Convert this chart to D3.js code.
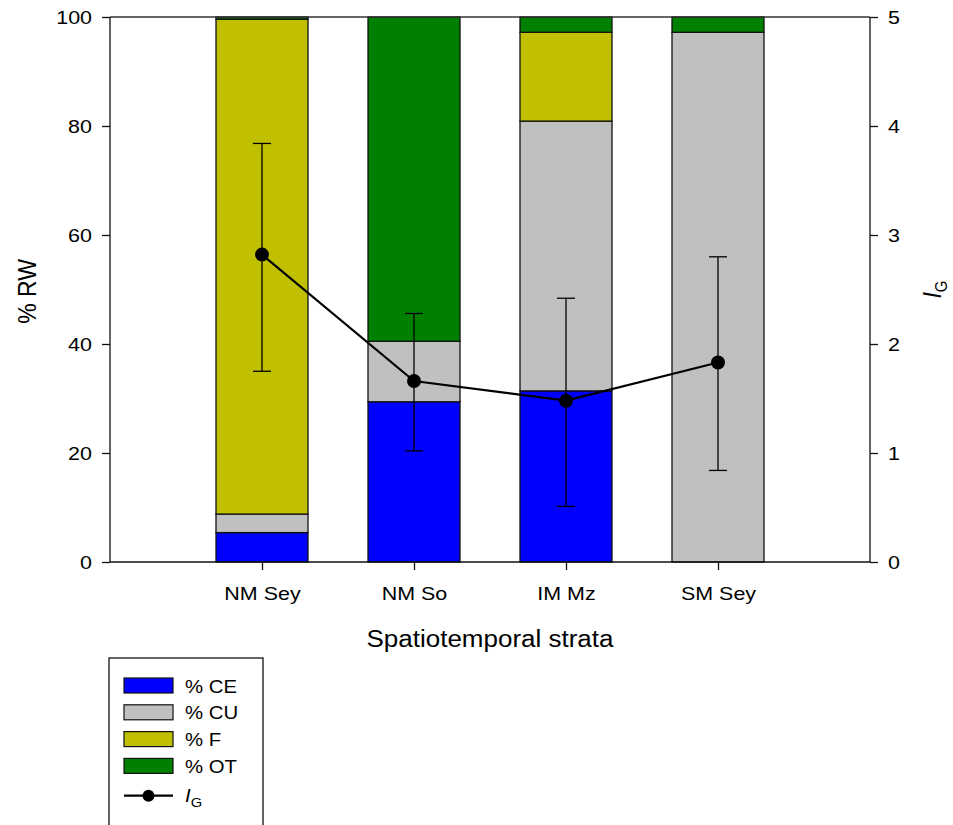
<!DOCTYPE html>
<html>
<head>
<meta charset="utf-8">
<script src="https://cdn.jsdelivr.net/npm/d3@7"></script>
<style>
  body { margin: 0; background: #fff; }
  svg text { font-family: "Liberation Sans", Arial, sans-serif; fill: #000; }
</style>
</head>
<body>
<svg id="chart" width="953" height="825"></svg>
<script>
// ---- data ----
const strata = ["NM Sey", "NM So", "IM Mz", "SM Sey"];
const keys = ["CE", "CU", "F", "OT"];
const pctCE = [5.4, 29.4, 31.4, 0];
const pctCU = [3.4, 11.1, 49.5, 97.2];
const pctF  = [90.8, 0, 16.3, 0];
const pctOT = [0.4, 59.5, 2.8, 2.8];
const ig     = [2.82, 1.66, 1.48, 1.83];
const igHigh = [3.84, 2.28, 2.42, 2.80];
const igLow  = [1.75, 1.02, 0.51, 0.84];
const yTicks = [0, 20, 40, 60, 80, 100];
const y2Ticks = [0, 1, 2, 3, 4, 5];

const colors = { CE: "#0000ff", CU: "#c0c0c0", F: "#c0c000", OT: "#008000" };

const rows = strata.map((s, i) => ({
    name: s, CE: pctCE[i], CU: pctCU[i], F: pctF[i], OT: pctOT[i],
    ig: ig[i], hi: igHigh[i], lo: igLow[i], pos: i + 1
}));

// ---- layout ----
const m = { left: 110, right: 870, top: 17, bottom: 562 };
const sx = 1.13; // the text in the original is a bit wide
const svg = d3.select("#chart");

const x = d3.scaleLinear().domain([0, 5]).range([m.left, m.right]);
const y = d3.scaleLinear().domain([0, 100]).range([m.bottom, m.top]);
const y2 = d3.scaleLinear().domain([0, 5]).range([m.bottom, m.top]);
const barW = 92;

// stacked bars
const stack = d3.stack().keys(keys)(rows);
svg.append("g").selectAll("g")
    .data(stack)
    .join("g")
    .attr("fill", d => colors[d.key])
    .selectAll("rect")
    .data(d => d.filter(v => v[1] - v[0] > 0))
    .join("rect")
    .attr("x", d => x(d.data.pos) - barW / 2)
    .attr("width", barW)
    .attr("y", d => y(d[1]))
    .attr("height", d => y(d[0]) - y(d[1]))
    .attr("stroke", "#111")
    .attr("stroke-width", 1.3);

// frame
svg.append("line").attr("x1", m.left).attr("x2", m.right)
    .attr("y1", m.top).attr("y2", m.top).attr("stroke", "#333").attr("stroke-width", 1.3);

// stretch a text horizontally around its anchor
function widen(sel) {
    sel.each(function() {
        const t = d3.select(this);
        const tx = +t.attr("x") || 0;
        t.attr("x", 0).attr("transform", `translate(${tx},0) scale(${sx},1)`);
    });
}

// axes
const fs = "19px";
const gl = svg.append("g").attr("transform", `translate(${m.left},0)`)
    .call(d3.axisLeft(y).tickValues(yTicks).tickSize(8).tickPadding(10));
const gr = svg.append("g").attr("transform", `translate(${m.right},0)`)
    .call(d3.axisRight(y2).tickValues(y2Ticks).tickFormat(d3.format("d")).tickSize(8).tickPadding(10));
const gb = svg.append("g").attr("transform", `translate(0,${m.bottom})`)
    .call(d3.axisBottom(x).tickValues([1, 2, 3, 4])
        .tickFormat(d => strata[d - 1]).tickSize(8).tickPadding(17));
[gl, gr, gb].forEach(g => {
    g.selectAll("text").style("font-size", fs)
        .style("font-family", "Liberation Sans, Arial, sans-serif").call(widen);
    g.selectAll("line, path").attr("stroke", "#111").attr("stroke-width", 1.3);
});
gb.select(".domain").attr("d", `M${m.left},0H${m.right}`);
gl.select(".domain").attr("d", `M0,${m.top}V${m.bottom}`);
gr.select(".domain").attr("d", `M0,${m.top}V${m.bottom}`);

// axis titles
const midY = (m.top + m.bottom) / 2;
svg.append("text")
    .attr("transform", `translate(36,${midY + 2}) scale(${sx},1) rotate(-90)`)
    .attr("text-anchor", "middle")
    .style("font-size", "23px")
    .text("% RW");
svg.append("text")
    .attr("transform", `translate(${(m.left + m.right) / 2},647) scale(${sx},1)`)
    .attr("text-anchor", "middle")
    .style("font-size", "23px")
    .text("Spatiotemporal strata");
const t2 = svg.append("text")
    .attr("transform", `translate(941,${midY}) scale(${sx},1) rotate(-90)`)
    .attr("text-anchor", "middle")
    .style("font-size", "23px");
t2.append("tspan").style("font-style", "italic").text("I");
t2.append("tspan").attr("dy", 5).style("font-size", "15px").text("G");

// IG line, error bars, points
const igLine = d3.line().x(d => x(d.pos)).y(d => y2(d.ig));
svg.append("path").datum(rows)
    .attr("d", igLine).attr("fill", "none")
    .attr("stroke", "#000").attr("stroke-width", 2.2);
const eb = svg.append("g").attr("stroke", "#000").attr("stroke-width", 1.3);
eb.selectAll("line.v").data(rows).join("line").attr("class", "v")
    .attr("x1", d => x(d.pos)).attr("x2", d => x(d.pos))
    .attr("y1", d => y2(d.hi)).attr("y2", d => y2(d.lo));
eb.selectAll("line.hc").data(rows).join("line").attr("class", "hc")
    .attr("x1", d => x(d.pos) - 9).attr("x2", d => x(d.pos) + 9)
    .attr("y1", d => y2(d.hi)).attr("y2", d => y2(d.hi));
eb.selectAll("line.lc").data(rows).join("line").attr("class", "lc")
    .attr("x1", d => x(d.pos) - 9).attr("x2", d => x(d.pos) + 9)
    .attr("y1", d => y2(d.lo)).attr("y2", d => y2(d.lo));
svg.append("g").selectAll("circle").data(rows).join("circle")
    .attr("cx", d => x(d.pos)).attr("cy", d => y2(d.ig)).attr("r", 7)
    .attr("fill", "#000");

// legend
const lg = svg.append("g");
lg.append("rect").attr("x", 109).attr("y", 658).attr("width", 154).attr("height", 180)
    .attr("fill", "#fff").attr("stroke", "#111").attr("stroke-width", 1.3);
const legendItems = [["CE", "% CE"], ["CU", "% CU"], ["F", "% F"], ["OT", "% OT"]];
const rowY = i => 685.5 + i * 26.8;
legendItems.forEach(([k, label], i) => {
    const yy = rowY(i);
    lg.append("rect").attr("x", 124).attr("y", yy - 7.5).attr("width", 49).attr("height", 15)
        .attr("fill", colors[k]).attr("stroke", "#111").attr("stroke-width", 1.2);
    lg.append("text").attr("transform", `translate(185,${yy + 7}) scale(${sx},1)`)
        .style("font-size", "18px").text(label);
});
const ly = rowY(4) + 3;
lg.append("line").attr("x1", 124).attr("x2", 173).attr("y1", ly).attr("y2", ly)
    .attr("stroke", "#000").attr("stroke-width", 2.2);
lg.append("circle").attr("cx", 148.5).attr("cy", ly).attr("r", 6).attr("fill", "#000");
const lt = lg.append("text").attr("transform", `translate(185,${ly + 6}) scale(${sx},1)`)
    .style("font-size", "18px");
lt.append("tspan").style("font-style", "italic").text("I");
lt.append("tspan").attr("dy", 5).style("font-size", "13px").text("G");
</script>
</body>
</html>
